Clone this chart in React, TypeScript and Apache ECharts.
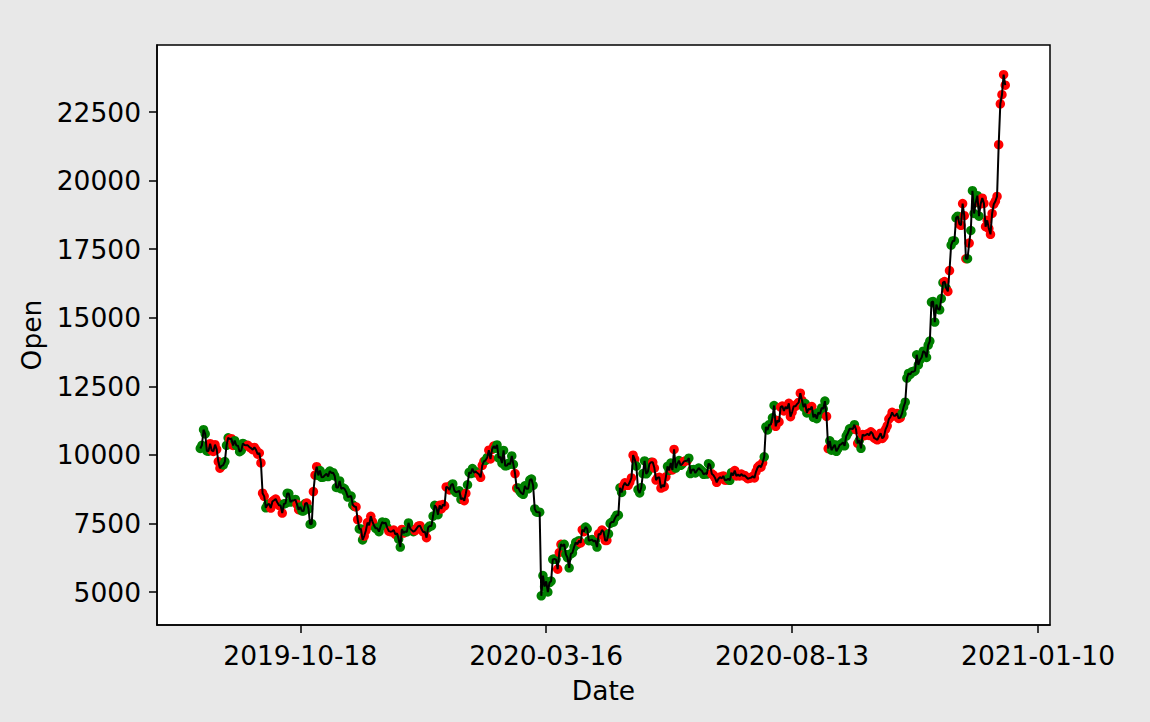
import React, { useEffect, useRef } from "react";
import * as echarts from "echarts";

// First data point date (daily series)
const startDate = "2019-08-18";

// Daily "Open" values, month by month
const open2019Aug = [10233, 10350, 10916, 10764, 10142, 10136, 10408, 10160, 10127, 10372, 10203, 9756, 9514, 9597];
const open2019Sep = [9630, 9757, 10346, 10623, 10578, 10589, 10341, 10518, 10343, 10334, 10116, 10160, 10415, 10360, 10346, 10347, 10281, 10247, 10188, 10272, 10183, 10024, 10068, 9705, 8603, 8487, 8070, 8186, 8210, 8060];
const open2019Oct = [8299, 8344, 8390, 8260, 8162, 8150, 7878, 8210, 8230, 8596, 8588, 8278, 8337, 8336, 8373, 8195, 8000, 8101, 7955, 7955, 8226, 8244, 8030, 7470, 7490, 8660, 9260, 9570, 9250, 9430, 9180];
const open2019Nov = [9190, 9260, 9310, 9210, 9410, 9340, 9350, 9230, 8810, 8810, 9050, 8760, 8800, 8760, 8650, 8460, 8480, 8500, 8180, 8120, 8100, 7640, 7300, 7300, 6900, 7040, 7240, 7530, 7430, 7760];
const open2019Dec = [7570, 7420, 7320, 7320, 7200, 7400, 7550, 7500, 7530, 7350, 7220, 7200, 7210, 7260, 7100, 7140, 6930, 6640, 7280, 7150, 7210, 7190, 7520, 7320, 7250, 7200, 7240, 7320, 7400, 7420, 7290];
const open2020Jan = [7190, 7200, 6980, 7350, 7410, 7410, 7770, 8160, 8080, 7820, 8160, 8030, 8190, 8140, 8830, 8810, 8720, 8900, 8940, 8700, 8630, 8660, 8690, 8380, 8430, 8330, 8600, 8910, 9360, 9320, 9500];
const open2020Feb = [9350, 9390, 9340, 9290, 9180, 9620, 9760, 9800, 9900, 10170, 9850, 10200, 10320, 10240, 10360, 9890, 9930, 9700, 10160, 9600, 9610, 9690, 9660, 9960, 9650, 9320, 8790, 8790, 8670];
const open2020Mar = [8600, 8560, 8870, 8760, 8760, 9080, 9120, 8890, 8030, 7920, 7910, 7910, 4860, 5600, 5200, 5390, 5000, 5340, 5400, 6190, 6200, 6190, 5830, 6440, 6740, 6680, 6740, 6370, 6250, 5880, 6390];
const open2020Apr = [6430, 6640, 6810, 6740, 6870, 6790, 7270, 7200, 7370, 7300, 6870, 6890, 6910, 6840, 6880, 6640, 7120, 7090, 7260, 7190, 6880, 6880, 7120, 7500, 7550, 7550, 7700, 7800, 7800, 8800];
const open2020May = [8630, 8870, 8980, 8900, 8890, 9010, 9160, 9990, 9840, 9590, 8730, 8610, 8810, 9320, 9780, 9310, 9390, 9670, 9730, 9730, 9520, 9080, 9170, 9180, 8790, 8900, 8840, 9200, 9580, 9430, 9700];
const open2020Jun = [9450, 10200, 9520, 9670, 9790, 9620, 9670, 9760, 9780, 9790, 9880, 9320, 9460, 9470, 9340, 9430, 9520, 9460, 9410, 9290, 9330, 9300, 9680, 9630, 9310, 9260, 9160, 9000, 9120, 9190];
const open2020Jul = [9140, 9230, 9080, 9080, 9130, 9070, 9350, 9250, 9430, 9230, 9280, 9230, 9300, 9240, 9250, 9190, 9130, 9150, 9170, 9220, 9160, 9390, 9540, 9610, 9550, 9710, 9930, 11020, 10910, 11100, 11110];
const open2020Aug = [11350, 11800, 11040, 11250, 11200, 11740, 11780, 11600, 11750, 11680, 11880, 11390, 11560, 11770, 11770, 11850, 11910, 12250, 11990, 11740, 11870, 11530, 11680, 11650, 11760, 11370, 11480, 11320, 11540, 11490, 11710];
const open2020Sep = [11680, 11960, 11400, 10230, 10510, 10170, 10280, 10370, 10130, 10230, 10360, 10390, 10450, 10330, 10680, 10790, 10950, 10950, 10940, 11100, 10920, 10420, 10530, 10240, 10740, 10700, 10730, 10770, 10710, 10840];
const open2020Oct = [10780, 10620, 10580, 10550, 10670, 10790, 10600, 10670, 10930, 11060, 11300, 11380, 11550, 11430, 11430, 11510, 11330, 11360, 11500, 11750, 11920, 12800, 12970, 12930, 13030, 13030, 13070, 13650, 13280, 13460, 13550];
const open2020Nov = [13780, 13740, 13550, 14000, 14150, 15570, 15590, 14840, 15480, 15320, 15290, 15700, 16280, 16320, 16070, 15960, 16720, 17650, 17800, 17800, 18640, 18700, 18420, 18370, 19160, 18720, 17150, 17150, 17720, 18180];
const open2020Dec = [19630, 18800, 19200, 19450, 18700, 19150, 19360, 19170, 18320, 18550, 18250, 18040, 18800, 19140, 19250, 19420, 21310, 22800, 23130, 23860, 23480];

// Point colour labels per month: g = green, r = red
const labels2019Aug = "gggggg" + "rrrrrrrr";
const labels2019Sep = "gggg" + "rrr" + "gggggggg" + "rrrrrrrrrrr" + "ggg" + "r";
const labels2019Oct = "rrrrrrr" + "gggggggg" + "rr" + "gggg" + "r" + "ggg" + "rrr" + "ggg";
const labels2019Nov = "gggggggggggggggggggg" + "rr" + "ggg" + "rrrrr";
const labels2019Dec = "rr" + "gggggggg" + "rrrrrr" + "gg" + "rr" + "gggggg" + "rrrrr";
const labels2020Jan = "rrr" + "ggggggg" + "rrrrrrrr" + "ggggggg" + "rr" + "gggg";
const labels2020Feb = "ggg" + "rrrr" + "gg" + "rrrr" + "gggggggggggg" + "rr" + "gg";
const labels2020Mar = "gggggggggggggggggggggg" + "rrr" + "gggggg";
const labels2020Apr = "ggggg" + "rrr" + "gggggggg" + "rrrrrr" + "gggggggg";
const labels2020May = "g" + "rrrrrrrr" + "gggggggggg" + "rrrrrrrrr" + "ggg";
const labels2020Jun = "rr" + "ggggg" + "rrr" + "gggggggggggggg" + "rrrrrr";
const labels2020Jul = "rrrr" + "gggg" + "rrrrrrrrrrrrrrrrrr" + "ggggg";
const labels2020Aug = "gg" + "rrrrrrrrrrrrrrrrr" + "ggg" + "rrr" + "gggggg";
const labels2020Sep = "gg" + "rr" + "gggggggggggggggg" + "rr" + "gg" + "rrrrrr";
const labels2020Oct = "rrrrrrrrrrrrrrrrrr" + "ggggggggggggg";
const labels2020Nov = "ggggggggggggg" + "r" + "g" + "rr" + "ggggg" + "rrrrr" + "g" + "r" + "g";
const labels2020Dec = "ggggg" + "rrrrrrrrrrrrrrrr";

const xTickLabels = ["2019-10-18", "2020-03-16", "2020-08-13", "2021-01-10"];
const yTickValues = [5000, 7500, 10000, 12500, 15000, 17500, 20000, 22500];

const openValues: number[] = [
  ...open2019Aug, ...open2019Sep, ...open2019Oct, ...open2019Nov, ...open2019Dec,
  ...open2020Jan, ...open2020Feb, ...open2020Mar, ...open2020Apr, ...open2020May,
  ...open2020Jun, ...open2020Jul, ...open2020Aug, ...open2020Sep, ...open2020Oct,
  ...open2020Nov, ...open2020Dec,
];
const colorLabels = (
  labels2019Aug + labels2019Sep + labels2019Oct + labels2019Nov + labels2019Dec +
  labels2020Jan + labels2020Feb + labels2020Mar + labels2020Apr + labels2020May +
  labels2020Jun + labels2020Jul + labels2020Aug + labels2020Sep + labels2020Oct +
  labels2020Nov + labels2020Dec
).split("");

const DAY = 86400000;
const dayIndex = (d: string) => Math.round((Date.parse(d) - Date.parse(startDate)) / DAY);
const tickIdx = xTickLabels.map(dayIndex);

const FONT = "DejaVu Sans";
const FS = 26.5;

export default function App() {
  const ref = useRef<HTMLDivElement>(null);
  useEffect(() => {
    if (!ref.current) return;
    const chart = echarts.init(ref.current, undefined, { renderer: "svg" });
    const lineData = openValues.map((v, i) => [i, v]);
    const dotData = openValues.map((v, i) => ({
      value: [i, v],
      itemStyle: { color: colorLabels[i] === "g" ? "#008000" : "#ff0000", opacity: 1 },
    }));
    chart.setOption({
      animation: false,
      backgroundColor: "#e8e8e8",
      grid: {
        left: 157,
        top: 45,
        width: 893,
        height: 580,
        show: true,
        backgroundColor: "#ffffff",
        borderColor: "#000000",
        borderWidth: 1.5,
      },
      xAxis: {
        type: "value",
        min: -26.4,
        max: 518.3,
        name: "Date",
        nameLocation: "middle",
        nameGap: 52,
        nameTextStyle: { fontFamily: FONT, fontSize: FS, color: "#000" },
        axisLine: { show: true, onZero: false, lineStyle: { color: "#000", width: 1.5 } },
        axisTick: { show: true, customValues: tickIdx, length: 8, lineStyle: { color: "#000", width: 1.5 } },
        axisLabel: {
          customValues: tickIdx,
          margin: 17,
          fontFamily: FONT,
          fontSize: FS,
          color: "#000",
          formatter: (val: number) => {
            const k = tickIdx.indexOf(Math.round(val));
            return k >= 0 ? xTickLabels[k] : "";
          },
        },
        splitLine: { show: false },
      },
      yAxis: {
        type: "value",
        min: 3797,
        max: 24943,
        name: "Open",
        nameLocation: "middle",
        nameGap: 112,
        nameRotate: 90,
        nameTextStyle: { fontFamily: FONT, fontSize: FS, color: "#000" },
        axisLine: { show: true, onZero: false, lineStyle: { color: "#000", width: 1.5 } },
        axisTick: { show: true, customValues: yTickValues, length: 8, lineStyle: { color: "#000", width: 1.5 } },
        axisLabel: {
          customValues: yTickValues,
          margin: 16,
          fontFamily: FONT,
          fontSize: FS,
          color: "#000",
          formatter: (val: number) => String(Math.round(val)),
        },
        splitLine: { show: false },
      },
      series: [
        {
          type: "scatter",
          data: dotData,
          symbol: "circle",
          symbolSize: 9.5,
          itemStyle: { opacity: 1 },
          z: 2,
        },
        {
          type: "line",
          data: lineData,
          showSymbol: false,
          lineStyle: { color: "#000", width: 2 },
          z: 3,
        },
      ],
    });
    return () => chart.dispose();
  }, []);
  return (
    <div
      ref={ref}
      style={{ position: "absolute", left: 0, top: 0, width: 1150, height: 722 }}
    />
  );
}
